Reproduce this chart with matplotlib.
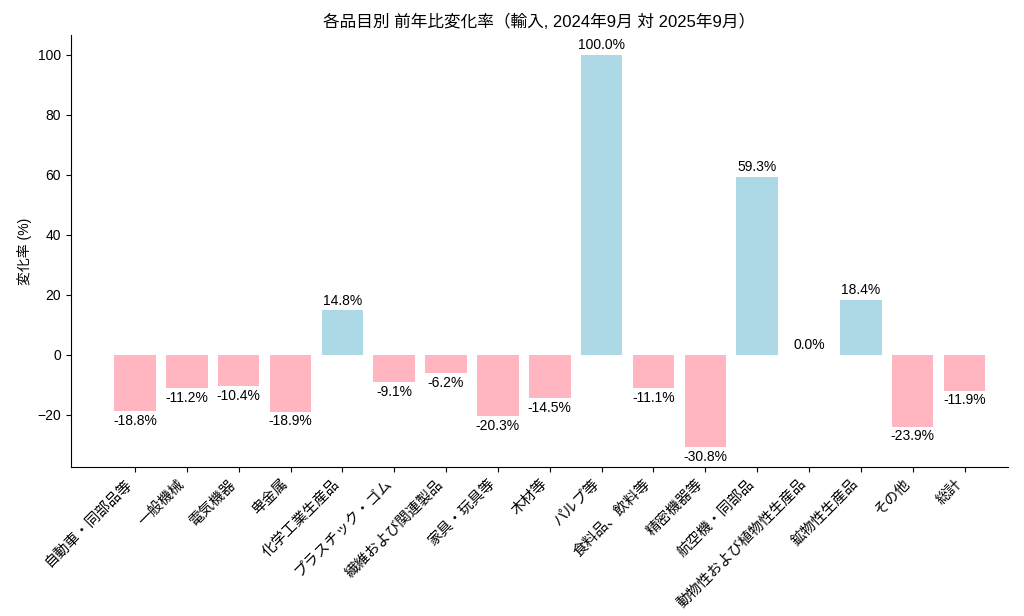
import matplotlib.pyplot as plt

plt.rcParams['font.family'] = ['Liberation Sans', 'Noto Sans CJK JP']

categories = ["自動車・同部品等", "一般機械", "電気機器", "卑金属", "化学工業生産品",
              "プラスチック・ゴム", "繊維および関連製品", "家具・玩具等", "木材等", "パルプ等",
              "食料品、飲料等", "精密機器等", "航空機・同部品", "動物性および植物性生産品",
              "鉱物性生産品", "その他", "総計"]
changes = [-18.8, -11.2, -10.4, -18.9, 14.8, -9.1, -6.2, -20.3, -14.5, 100.0,
           -11.1, -30.8, 59.3, 0.0, 18.4, -23.9, -11.9]

colors = ['lightblue' if v > 0 else 'lightpink' for v in changes]

fig, ax = plt.subplots(figsize=(10.24, 6.16), dpi=100)
x = range(len(categories))
bars = ax.bar(x, changes, color=colors, width=0.8)

for b, v in zip(bars, changes):
    if v >= 0:
        ax.annotate(f"{v:.1f}%", (b.get_x() + b.get_width() / 2, v),
                    xytext=(0, 2), textcoords='offset points',
                    ha='center', va='bottom', fontsize=10)
    else:
        ax.annotate(f"{v:.1f}%", (b.get_x() + b.get_width() / 2, v),
                    xytext=(0, -2), textcoords='offset points',
                    ha='center', va='top', fontsize=10)

ax.set_xticks(list(x))
ax.set_xticklabels(categories, rotation=45, ha='right', fontsize=10.5)
ax.set_xlim(-1.24, 16.83)
ax.set_ylabel("変化率 (%)", fontsize=10)
ax.set_title("各品目別 前年比変化率（輸入, 2024年9月 対 2025年9月）", fontsize=12)
ax.spines['top'].set_visible(False)
ax.spines['right'].set_visible(False)

plt.subplots_adjust(left=0.069, right=0.984, top=0.943, bottom=0.242)
plt.savefig("out.png")
